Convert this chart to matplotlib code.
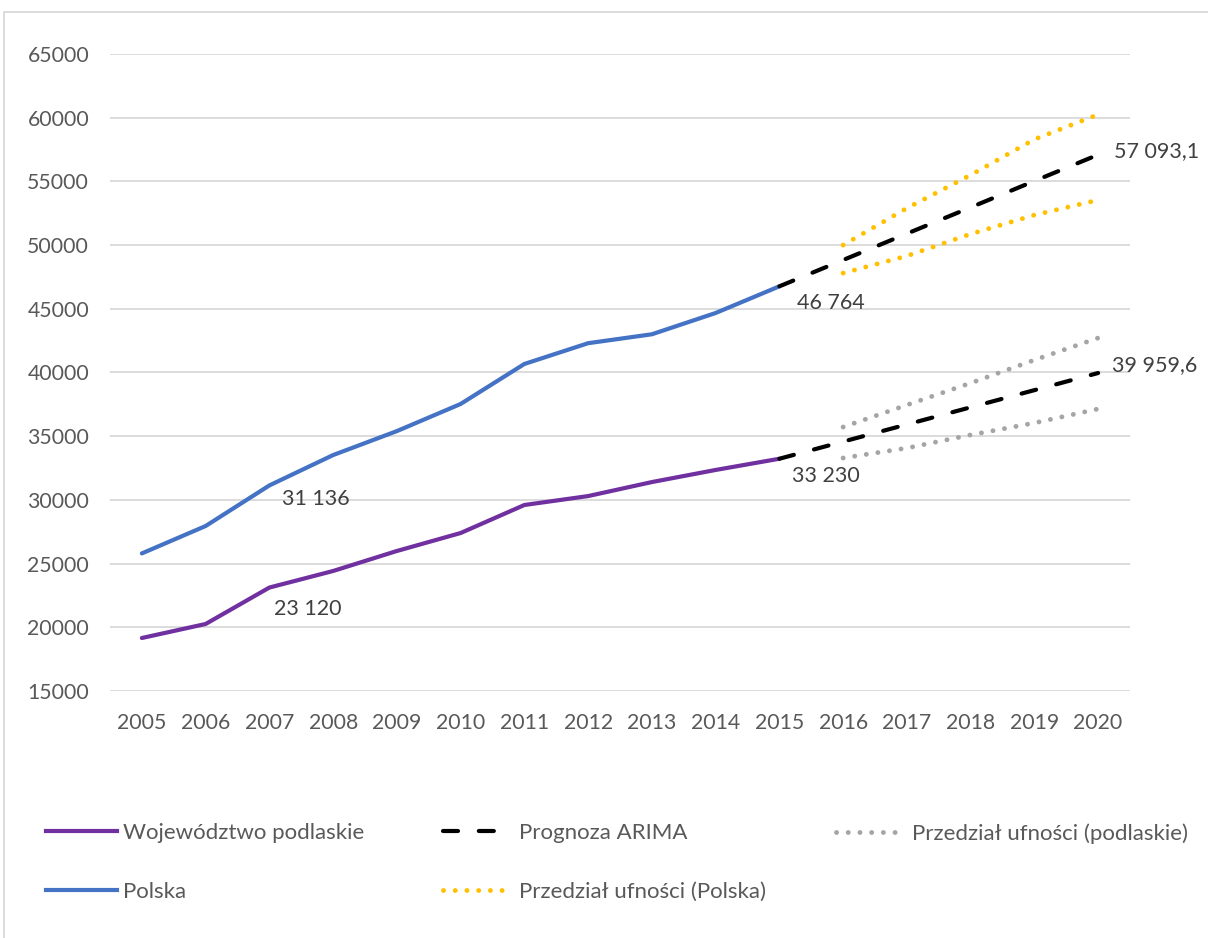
import matplotlib
matplotlib.use("Agg")
import matplotlib.pyplot as plt
from matplotlib.lines import Line2D
from matplotlib.patches import Rectangle

years = [str(y) for y in range(2005, 2021)]
polska = [25800, 27950, 31136, 33520, 35400, 37530, 40670, 42300, 43000, 44670, 46764]
podlaskie = [19160, 20260, 23120, 24420, 25990, 27400, 29600, 30300, 31400, 32350, 33230]
arima_polska = [46764, 48830, 50900, 52960, 55030, 57093.1]
arima_podlaskie = [33230, 34576, 35922, 37268, 38614, 39959.6]
ci_polska_up = [50000, 52900, 55500, 58300, 60250]
ci_polska_lo = [47800, 49150, 50870, 52360, 53540]
ci_podl_up = [35720, 37450, 39170, 40980, 42710]
ci_podl_lo = [33290, 34070, 35100, 36040, 37140]

plt.rcParams['font.family'] = ['Lato', 'DejaVu Sans']
TXT = '#595959'
LBL = '#404040'
C_PURPLE = '#7030A0'
C_BLUE = '#4472C4'
C_ORANGE = '#FFC000'
C_GRAY = '#A5A5A5'

fig = plt.figure(figsize=(12.08, 9.38), dpi=100)
W, H = 1208, 938
ax = fig.add_axes([110 / W, 1 - 691 / H, 1020 / W, (691 - 54) / H])

x_hist = list(range(len(polska)))
x_fc = list(range(len(polska) - 1, len(years)))
x_ci = list(range(len(polska), len(years)))

LW = 3.0
dash = dict(linestyle=(0, (3.6, 5.0)), dash_capstyle='round')
dot = dict(linestyle=(0, (0.01, 2.4)), dash_capstyle='round')
LWD = 3.5

ax.plot(x_hist, polska, color=C_BLUE, lw=LW, solid_capstyle='round', solid_joinstyle='round', zorder=3)
ax.plot(x_hist, podlaskie, color=C_PURPLE, lw=LW, solid_capstyle='round', solid_joinstyle='round', zorder=3)
ax.plot(x_fc, arima_polska, color='black', lw=LW, zorder=4, **dash)
ax.plot(x_fc, arima_podlaskie, color='black', lw=LW, zorder=4, **dash)
ax.plot(x_ci, ci_polska_up, color=C_ORANGE, lw=LWD, zorder=3, **dot)
ax.plot(x_ci, ci_polska_lo, color=C_ORANGE, lw=LWD, zorder=3, **dot)
ax.plot(x_ci, ci_podl_up, color=C_GRAY, lw=LWD, zorder=3, **dot)
ax.plot(x_ci, ci_podl_lo, color=C_GRAY, lw=LWD, zorder=3, **dot)

ax.set_xlim(-0.5, len(years) - 0.5)
ax.set_ylim(15000, 65000)
ax.set_yticks(range(15000, 65001, 5000))
ax.set_yticklabels([str(v) for v in range(15000, 65001, 5000)])
ax.set_xticks(range(len(years)))
ax.set_xticklabels(years)
ax.grid(axis='y', color='#D9D9D9', lw=1.3)
ax.set_axisbelow(True)
for s in ax.spines.values():
    s.set_visible(False)
ax.tick_params(length=0, labelsize=15.3, colors=TXT)
ax.tick_params(axis='y', pad=15)
ax.tick_params(axis='x', pad=16)

fs = 15.5
def lab(txt, x, y, dx, dy):
    ax.annotate(txt, (x, y), xytext=(dx, dy), textcoords='offset pixels',
                ha='left', va='center', fontsize=fs, color=LBL, annotation_clip=False)

lab('31 136', 2, polska[2], 13, -14)
lab('23 120', 2, podlaskie[2], 5, -21)
lab('46 764', 10, polska[10], 18, -17)
lab('33 230', 10, podlaskie[10], 13, -17)
lab('57 093,1', 15, arima_polska[-1], 16, 4)
lab('39 959,6', 15, arima_podlaskie[-1], 14, 8)

# figure border
fig.patches.append(Rectangle((4 / W, -0.01), 1.02, 1 - 12 / H + 0.01, transform=fig.transFigure,
                             fill=False, edgecolor='#D9D9D9', lw=1.3))

LFS = 16
def leg(handles, labels, x, y, hl, pad):
    return fig.legend(handles, labels, loc='upper left', bbox_to_anchor=(x / W, 1 - y / H),
                      frameon=False, fontsize=LFS, labelcolor=TXT, handlelength=hl,
                      handletextpad=pad, labelspacing=1.75, borderaxespad=0, borderpad=0)

h_podl = Line2D([], [], color=C_PURPLE, lw=LW)
h_pol = Line2D([], [], color=C_BLUE, lw=LW)
h_ar = Line2D([], [], color='black', lw=LW, **dash)
h_cpol = Line2D([], [], color=C_ORANGE, lw=LWD, **dot)
h_cpodl = Line2D([], [], color=C_GRAY, lw=LWD, **dot)

leg([h_podl, h_pol], ['Województwo podlaskie', 'Polska'], 46, 823, 3.2, 0.25)
leg([h_ar, h_cpol], ['Prognoza ARIMA', 'Przedział ufności (Polska)'], 443, 823, 2.95, 0.45)
leg([h_cpodl], ['Przedział ufności (podlaskie)'], 836, 823, 2.95, 0.45)

fig.savefig('out.png', dpi=100)
